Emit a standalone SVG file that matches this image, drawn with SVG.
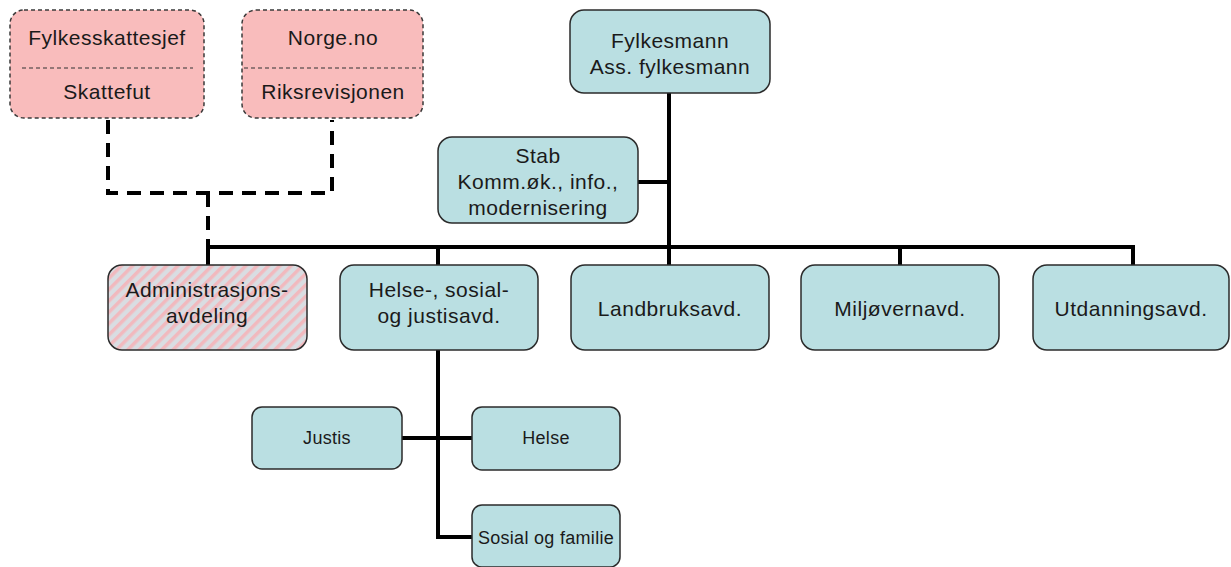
<svg xmlns="http://www.w3.org/2000/svg" width="1231" height="567" viewBox="0 0 1231 567">
<defs>
<pattern id="hatch" width="8" height="8" patternUnits="userSpaceOnUse" patternTransform="rotate(-45)">
<rect width="8" height="8" fill="#d9dde2"/>
<rect width="8" height="3.5" fill="#f1b9be"/>
</pattern>
</defs>
<style>
.box{fill:#badfe2;stroke:#2b2b2b;stroke-width:1.5}
.pink{fill:#f9bcbc;stroke:#3a3a3a;stroke-width:1.5;stroke-dasharray:4 3}
.adm{fill:url(#hatch);stroke:#2b2b2b;stroke-width:1.5}
text{font-family:"Liberation Sans",Arial,sans-serif;font-size:21px;fill:#1a1a1a;text-anchor:middle;letter-spacing:0.5px}
.sm{font-size:18px;letter-spacing:0.3px}
.line{fill:none;stroke:#000;stroke-width:4}
.dash{fill:none;stroke:#000;stroke-width:4;stroke-dasharray:14 9}
</style>
<rect width="1231" height="567" fill="#ffffff"/>
<g id="connectors">
<path class="dash" d="M108,120 V193 H332 V120"/>
<path class="dash" d="M208,193 V247"/>
<path class="line" d="M669,93 V247"/>
<path class="line" d="M638,182 H669"/>
<path class="line" d="M206,247 H1135"/>
<path class="line" d="M208,245 V265 M438,247 V265 M669,247 V265 M900,247 V265 M1133,245 V265"/>
<path class="line" d="M438,350 V537 H472"/>
<path class="line" d="M402,438 H472"/>
</g>
<g id="fylkesskattesjef">
<rect class="pink" x="10" y="10" width="194" height="108" rx="14"/>
<line x1="22" y1="68" x2="193" y2="68" stroke="#333" stroke-width="1.2" stroke-dasharray="4 3"/>
<text x="107" y="45">Fylkesskattesjef</text>
<text x="107" y="99">Skattefut</text>
</g>
<g id="norge">
<rect class="pink" x="242" y="10" width="181" height="108" rx="14"/>
<line x1="244" y1="68" x2="421" y2="68" stroke="#333" stroke-width="1.2" stroke-dasharray="4 3"/>
<text x="333" y="45">Norge.no</text>
<text x="333" y="99">Riksrevisjonen</text>
</g>
<g id="fylkesmann">
<rect class="box" x="570" y="10" width="200" height="83" rx="14"/>
<text x="670" y="48">Fylkesmann</text>
<text x="670" y="74">Ass. fylkesmann</text>
</g>
<g id="stab">
<rect class="box" x="438" y="137" width="200" height="86" rx="14"/>
<text x="538" y="163">Stab</text>
<text x="538" y="189">Komm.øk., info.,</text>
<text x="538" y="215">modernisering</text>
</g>
<g id="admin">
<rect class="adm" x="108" y="265" width="199" height="85" rx="14"/>
<text x="207" y="297">Administrasjons-</text>
<text x="207" y="323">avdeling</text>
</g>
<g id="helse-sosial">
<rect class="box" x="340" y="265" width="198" height="85" rx="14"/>
<text x="439" y="297">Helse-, sosial-</text>
<text x="439" y="323">og justisavd.</text>
</g>
<g id="landbruk">
<rect class="box" x="571" y="265" width="198" height="85" rx="14"/>
<text x="670" y="316">Landbruksavd.</text>
</g>
<g id="miljo">
<rect class="box" x="801" y="265" width="198" height="85" rx="14"/>
<text x="900" y="316">Miljøvernavd.</text>
</g>
<g id="utdanning">
<rect class="box" x="1033" y="265" width="196" height="85" rx="14"/>
<text x="1131" y="316">Utdanningsavd.</text>
</g>
<g id="justis">
<rect class="box" x="252" y="407" width="150" height="62" rx="10"/>
<text class="sm" x="327" y="444">Justis</text>
</g>
<g id="helse">
<rect class="box" x="472" y="407" width="148" height="63" rx="10"/>
<text class="sm" x="546" y="444">Helse</text>
</g>
<g id="sosial">
<rect class="box" x="472" y="505" width="148" height="62" rx="10"/>
<text class="sm" x="546" y="544">Sosial og familie</text>
</g>
</svg>
